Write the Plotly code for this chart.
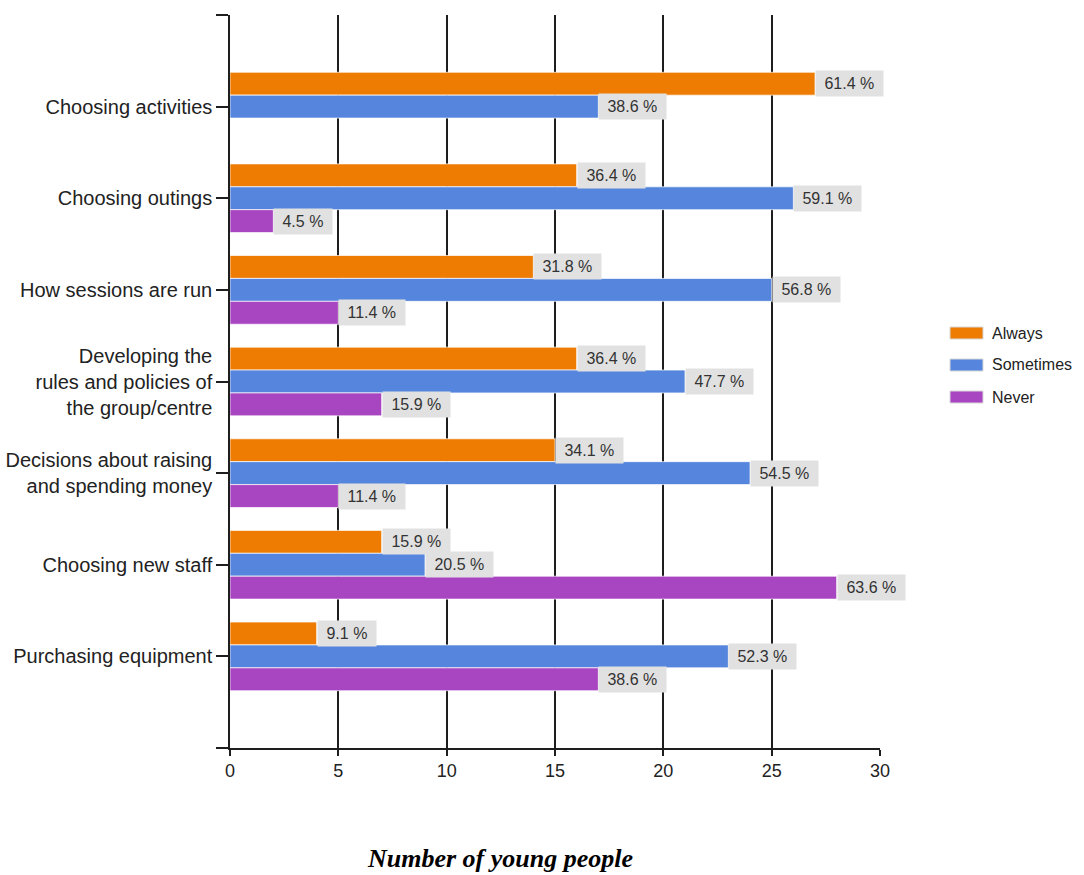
import plotly.graph_objects as go

# Survey answers: how often young people are involved in each kind of decision
categories = [
    "Choosing activities",
    "Choosing outings",
    "How sessions are run",
    "Developing the<br>rules and policies of<br>the group/centre",
    "Decisions about raising<br>and spending money",
    "Choosing new staff",
    "Purchasing equipment",
]
series_names = ["Always", "Sometimes", "Never"]
always_pct = [61.4, 36.4, 31.8, 36.4, 34.1, 15.9, 9.1]
sometimes_pct = [38.6, 59.1, 56.8, 47.7, 54.5, 20.5, 52.3]
never_pct = [None, 4.5, 11.4, 15.9, 11.4, 63.6, 38.6]
respondents = 44
x_tick_values = [0, 5, 10, 15, 20, 25, 30]

series_pct = [always_pct, sometimes_pct, never_pct]
series_colors = ["#ee7c02", "#5585dd", "#a845c1"]
row_offsets = [-0.25, 0.0, 0.25]

# plot-area geometry in pixels (used to place the legend and axis title)
W, H = 1084, 875
L, R, T, B = 230, 204, 15, 127
PW, PH = W - L - R, H - T - B


def px_x(px):
    return (px - L) / PW


def px_y(py):
    return (H - B - py) / PH


fig = go.Figure()
annotations = []

for name, pcts, color, off in zip(series_names, series_pct, series_colors, row_offsets):
    xs, ys, labels = [], [], []
    for i, p in enumerate(pcts):
        if p is None:
            continue
        count = round(p * respondents / 100)
        xs.append(count)
        ys.append(i + off)
        labels.append(p)
    fig.add_trace(go.Bar(
        x=xs, y=ys, orientation="h", name=name, width=0.25,
        marker=dict(color=color, line=dict(color="rgba(255,255,255,0.7)", width=1)),
        showlegend=False, hoverinfo="x+name",
    ))
    for x, y, p in zip(xs, ys, labels):
        annotations.append(dict(
            x=x, y=y, xref="x", yref="y", xanchor="left", yanchor="middle",
            text="\u00a0" + f"{p} %" + "\u00a0", showarrow=False,
            bgcolor="#e1e1e1", borderpad=4,
            font=dict(family="Liberation Sans, Arial, sans-serif", size=16, color="#333333"),
        ))

# legend drawn as swatches with labels at the right of the plot
legend_top = 333
for k, (name, color) in enumerate(zip(series_names, series_colors)):
    cy = legend_top + 32 * k
    fig.add_shape(type="rect", xref="paper", yref="paper",
                  x0=px_x(950), x1=px_x(983), y0=px_y(cy - 6), y1=px_y(cy + 6),
                  fillcolor=color, line=dict(color="#d8d8d8", width=1))
    annotations.append(dict(
        x=px_x(990), y=px_y(cy), xref="paper", yref="paper",
        xanchor="left", yanchor="middle", text=name, showarrow=False,
        font=dict(family="Liberation Sans, Arial, sans-serif", size=16, color="#222222"),
    ))

annotations.append(dict(
    x=px_x(500), y=px_y(858), xref="paper", yref="paper",
    xanchor="center", yanchor="middle", showarrow=False,
    text="<b><i>Number of young people</i></b>",
    font=dict(family="Liberation Serif, Times New Roman, serif", size=26, color="#000000"),
))

fig.update_layout(
    width=W, height=H,
    margin=dict(l=L, r=R, t=T, b=B, autoexpand=False),
    paper_bgcolor="white", plot_bgcolor="white",
    barmode="overlay",
    annotations=annotations,
    showlegend=False,
)

fig.update_xaxes(
    range=[0, 30], tickvals=x_tick_values,
    showgrid=True, gridcolor="#1e1e1e", gridwidth=1.5,
    showline=True, linecolor="#1e1e1e", linewidth=1.5,
    ticks="outside", ticklen=6, tickcolor="#1e1e1e", tickwidth=1.5,
    tickfont=dict(family="Liberation Sans Narrow, Arial Narrow, Liberation Sans, sans-serif",
                  size=18, color="#222222"),
    zeroline=False, automargin=False, fixedrange=True,
)
fig.update_yaxes(
    range=[len(categories), -1],
    tickvals=list(range(-1, len(categories) + 1)),
    ticktext=[""] + categories + [""],
    showgrid=False, zeroline=False,
    showline=True, linecolor="#1e1e1e", linewidth=1.5,
    ticks="outside", ticklen=12, tickcolor="#1e1e1e", tickwidth=1.5,
    tickfont=dict(family="Liberation Sans, Arial, sans-serif", size=20, color="#222222"),
    automargin=False, fixedrange=True,
)

fig.write_html("out.html")
